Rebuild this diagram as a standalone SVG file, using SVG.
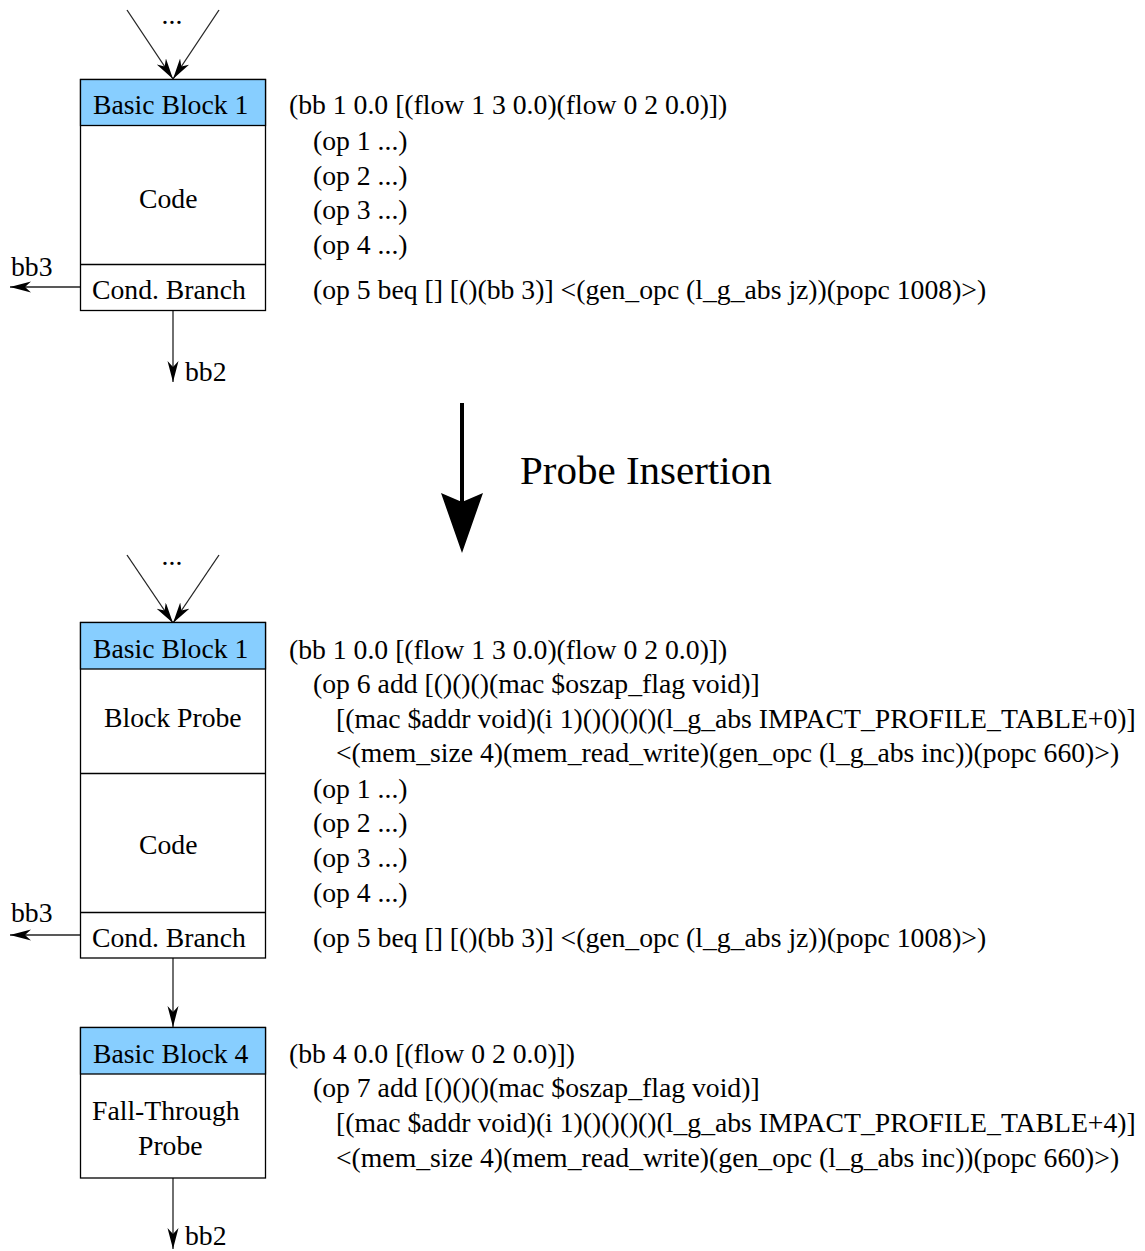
<svg xmlns="http://www.w3.org/2000/svg" width="1145" height="1251" viewBox="0 0 1145 1251">
  <style>
    text { font-family: "Liberation Serif", "Times New Roman", serif; font-size: 27.7px; fill: #000; }
    .box { fill: #fff; stroke: #000; stroke-width: 1.3; }
    .hdr { fill: #87ceff; stroke: #000; stroke-width: 1.3; }
    .div { stroke: #000; stroke-width: 1.3; fill: none; }
    .edge { stroke: #222; stroke-width: 1.3; fill: none; marker-end: url(#ah); }
    .title { font-size: 41px; }
  </style>
  <defs>
    <marker id="ah" markerUnits="userSpaceOnUse" markerWidth="24" markerHeight="14" refX="21" refY="5.5" orient="auto">
      <path d="M0,0 L21,5.5 L0,11 L6,5.5 z" fill="#000"/>
    </marker>
  </defs>

  <rect width="1145" height="1251" fill="#fff"/>

  <!-- connectors -->
  <g id="connectors">
    <!-- before probe insertion -->
    <line class="edge" x1="127" y1="10" x2="173" y2="79"/>
    <line class="edge" x1="219" y1="10" x2="173" y2="79"/>
    <line class="edge" x1="80" y1="287" x2="10" y2="287"/>
    <line class="edge" x1="173" y1="311" x2="173" y2="382"/>
    <!-- after probe insertion -->
    <line class="edge" x1="127" y1="555" x2="173" y2="623"/>
    <line class="edge" x1="219" y1="555" x2="173" y2="623"/>
    <line class="edge" x1="80" y1="935" x2="10" y2="935"/>
    <line class="edge" x1="173" y1="958" x2="173" y2="1027"/>
    <line class="edge" x1="173" y1="1178" x2="173" y2="1249"/>
    <!-- transformation arrow -->
    <line x1="462" y1="403" x2="462" y2="505" stroke="#000" stroke-width="4"/>
    <path d="M441,493 L462,502 L483,493 L462,553 z" fill="#000"/>
  </g>

  <text x="172" y="24" text-anchor="middle">...</text>
  <text x="11" y="276">bb3</text>
  <text x="185" y="381">bb2</text>
  <text x="172" y="565" text-anchor="middle">...</text>
  <text x="11" y="922">bb3</text>
  <text x="185" y="1245">bb2</text>
  <text class="title" x="520" y="484">Probe Insertion</text>

  <!-- original basic block -->
  <g id="bb1-before">
    <rect class="box" x="80.5" y="79.5" width="185" height="231"/>
    <rect class="hdr" x="80.5" y="79.5" width="185" height="46"/>
    <line class="div" x1="80.5" y1="264.5" x2="265.5" y2="264.5"/>
    <text x="93" y="114">Basic Block 1</text>
    <text x="139" y="208">Code</text>
    <text x="92" y="299">Cond. Branch</text>
  </g>
  <g id="bb1-before-code">
    <text x="289" y="114">(bb 1 0.0 [(flow 1 3 0.0)(flow 0 2 0.0)])</text>
    <text x="313" y="150">(op 1 ...)</text>
    <text x="313" y="185">(op 2 ...)</text>
    <text x="313" y="219">(op 3 ...)</text>
    <text x="313" y="254">(op 4 ...)</text>
    <text x="313" y="299">(op 5 beq [] [()(bb 3)] &lt;(gen_opc (l_g_abs jz))(popc 1008)&gt;)</text>
  </g>

  <!-- instrumented basic block -->
  <g id="bb1-after">
    <rect class="box" x="80.5" y="622.5" width="185" height="335.5"/>
    <rect class="hdr" x="80.5" y="622.5" width="185" height="46.5"/>
    <line class="div" x1="80.5" y1="773.5" x2="265.5" y2="773.5"/>
    <line class="div" x1="80.5" y1="912.5" x2="265.5" y2="912.5"/>
    <text x="93" y="658">Basic Block 1</text>
    <text x="104" y="727">Block Probe</text>
    <text x="139" y="854">Code</text>
    <text x="92" y="947">Cond. Branch</text>
  </g>
  <g id="bb1-after-code">
    <text x="289" y="659">(bb 1 0.0 [(flow 1 3 0.0)(flow 0 2 0.0)])</text>
    <text x="313" y="693">(op 6 add [()()()(mac $oszap_flag void)]</text>
    <text x="336" y="728">[(mac $addr void)(i 1)()()()()(l_g_abs IMPACT_PROFILE_TABLE+0)]</text>
    <text x="336" y="762">&lt;(mem_size 4)(mem_read_write)(gen_opc (l_g_abs inc))(popc 660)&gt;)</text>
    <text x="313" y="798">(op 1 ...)</text>
    <text x="313" y="832">(op 2 ...)</text>
    <text x="313" y="867">(op 3 ...)</text>
    <text x="313" y="902">(op 4 ...)</text>
    <text x="313" y="947">(op 5 beq [] [()(bb 3)] &lt;(gen_opc (l_g_abs jz))(popc 1008)&gt;)</text>
  </g>

  <!-- fall-through probe block -->
  <g id="bb4">
    <rect class="box" x="80.5" y="1027.5" width="185" height="150.5"/>
    <rect class="hdr" x="80.5" y="1027.5" width="185" height="46.5"/>
    <text x="93" y="1063">Basic Block 4</text>
    <text x="92" y="1120">Fall-Through</text>
    <text x="138" y="1155">Probe</text>
  </g>
  <g id="bb4-code">
    <text x="289" y="1063">(bb 4 0.0 [(flow 0 2 0.0)])</text>
    <text x="313" y="1097">(op 7 add [()()()(mac $oszap_flag void)]</text>
    <text x="336" y="1132">[(mac $addr void)(i 1)()()()()(l_g_abs IMPACT_PROFILE_TABLE+4)]</text>
    <text x="336" y="1167">&lt;(mem_size 4)(mem_read_write)(gen_opc (l_g_abs inc))(popc 660)&gt;)</text>
  </g>
</svg>
